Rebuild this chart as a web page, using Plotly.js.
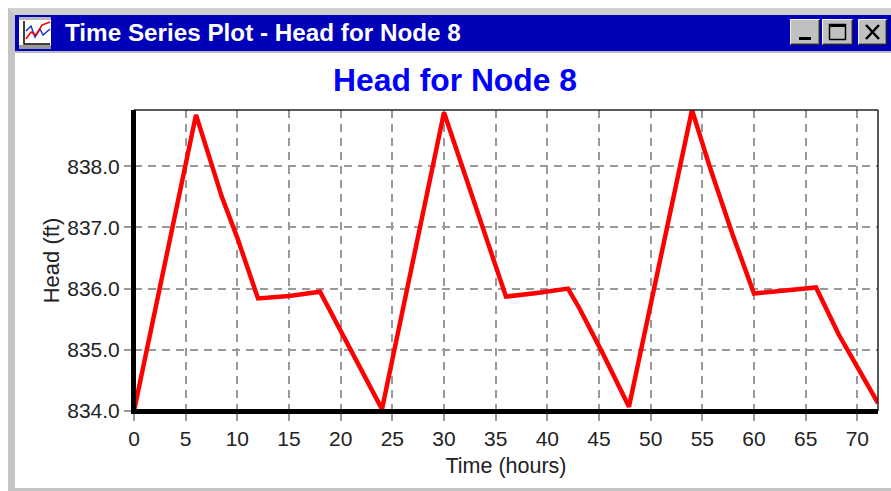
<!DOCTYPE html>
<html>
<head>
<meta charset="utf-8">
<script src="https://cdn.plot.ly/plotly-3.0.1.min.js"></script>
<style>
html,body{margin:0;padding:0;background:#fff;width:891px;height:491px;overflow:hidden}
#win{position:absolute;left:8px;top:8px;width:890px;height:483px;box-sizing:border-box;background:#fff;border:7px solid #c4c4c4;border-top-color:#d0d0d0;border-bottom-width:3px}
#bar{position:absolute;left:15px;top:15px;width:876px;height:36px;background:#0000b8;border-bottom:2px solid #b8b8c8}
#bar span{position:absolute;left:50px;top:2px;color:#fff;font:bold 24.25px "Liberation Sans",Arial,sans-serif;line-height:32px;white-space:nowrap}
.btn{position:absolute;top:4px;height:26px;box-sizing:border-box;background:#c0c0c0;border:1px solid;border-color:#f4f4f4 #222 #222 #f4f4f4;box-shadow:inset -1px -1px 0 #808080}
#plot{position:absolute;left:0;top:0;width:891px;height:491px}
</style>
</head>
<body>
<div id="win"></div>
<div id="bar">
  <svg style="position:absolute;left:4px;top:2px" width="32" height="32" viewBox="0 0 32 32">
    <rect width="32" height="32" fill="#fff"/>
    <rect x="0" y="0" width="32" height="3" fill="#b8b8b8"/>
    <rect x="0" y="28" width="32" height="4" fill="#999"/>
    <path d="M5 4V27H31" fill="none" stroke="#000" stroke-width="1.5"/>
    <path d="M7 14L12 9L16 20L21 12L24 18L31 12" fill="none" stroke="#2030d0" stroke-width="1.5"/>
    <path d="M7 22L12 15L17 18L23 8L31 5" fill="none" stroke="#f00000" stroke-width="1.5"/>
  </svg>
  <span>Time Series Plot - Head for Node 8</span>
  <div class="btn" style="left:775px;width:30px"><svg width="28" height="24" style="position:absolute;left:0;top:0"><rect x="8" y="17" width="12" height="3" fill="#000"/></svg></div>
  <div class="btn" style="left:807px;width:31px"><svg width="29" height="24" style="position:absolute;left:0;top:0"><rect x="6.5" y="4.5" width="16" height="15" fill="none" stroke="#000" stroke-width="1.5"/><rect x="6" y="4" width="17" height="3" fill="#000"/></svg></div>
  <div class="btn" style="left:843px;width:29px"><svg width="27" height="24" style="position:absolute;left:0;top:0"><path d="M7 5L20 19M20 5L7 19" stroke="#000" stroke-width="2.5"/></svg></div>
</div>
<div id="plot"></div>
<script>
const windowTitle = "Time Series Plot - Head for Node 8";
const chartTitle = "Head for Node 8";
const hours = [0, 6, 8.5, 10, 12, 15, 18, 20, 22.3, 24, 30, 33, 36, 39, 42, 43.1, 45.4, 47.9, 54, 55.7, 58, 60, 63, 66, 68.2, 70, 72];
const head = [834.0, 838.84, 837.5, 836.83, 835.84, 835.88, 835.95, 835.3, 834.57, 834.03, 838.88, 837.35, 835.87, 835.93, 836.0, 835.68, 834.93, 834.07, 838.92, 838.0, 836.85, 835.92, 835.97, 836.02, 835.25, 834.73, 834.13];
const xLabelTitle = "Time (hours)";
const yLabelTitle = "Head (ft)";

const font = '"Liberation Sans", Arial, sans-serif';
const ink = "#222222";
Plotly.newPlot("plot", [{
  x: hours, y: head, type: "scatter", mode: "lines",
  line: {color: "#ff0000", width: 4.5, shape: "linear"},
  hoverinfo: "x+y"
}], {
  width: 891, height: 491,
  margin: {l: 134, r: 12.6, t: 110, b: 80, pad: 0},
  paper_bgcolor: "rgba(0,0,0,0)", plot_bgcolor: "rgba(0,0,0,0)",
  showlegend: false,
  font: {family: font, color: ink, size: 21},
  title: {text: chartTitle, x: 455 / 891, xref: "container", xanchor: "center", y: 1 - 79.5 / 491, yref: "container", yanchor: "middle", font: {family: font, size: 31.8, color: "#0000ff", weight: 700}},
  xaxis: {
    range: [0, 72], tick0: 0, dtick: 5, ticks: "outside", ticklen: 7, tickwidth: 2, tickcolor: "#999999",
    showline: true, linecolor: "#000", linewidth: 3,
    showgrid: true, gridcolor: "#999999", gridwidth: 2, griddash: "8px,6px", zeroline: false,
    tickfont: {family: font, size: 21, color: ink},
    title: {text: xLabelTitle, standoff: 9, font: {family: font, size: 21.5, color: ink}}
  },
  yaxis: {
    range: [834, 838.92], tick0: 834, dtick: 1, tickformat: ".1f", ticks: "outside", ticklen: 7, tickwidth: 2, tickcolor: "#999999",
    showline: true, linecolor: "#000", linewidth: 3,
    showgrid: true, gridcolor: "#999999", gridwidth: 2, griddash: "8px,6px", zeroline: false,
    tickfont: {family: font, size: 21, color: ink},
    title: {text: yLabelTitle, standoff: 2, font: {family: font, size: 22, color: ink}}
  },
  shapes: [
    {type: "line", xref: "paper", yref: "paper", x0: 0, x1: 1, y0: 1, y1: 1, line: {color: "#222", width: 1.5}},
    {type: "line", xref: "paper", yref: "paper", x0: 1, x1: 1, y0: 0, y1: 1, line: {color: "#222", width: 1.5}},
    {type: "line", xref: "paper", yref: "paper", x0: 0, x1: 0, y0: 0, y1: 1, line: {color: "#000", width: 4}},
    {type: "line", xref: "paper", yref: "paper", x0: 0, x1: 1, y0: 0, y1: 0, line: {color: "#000", width: 4}}
  ]
}, {displayModeBar: false, staticPlot: true});
</script>
</body>
</html>
